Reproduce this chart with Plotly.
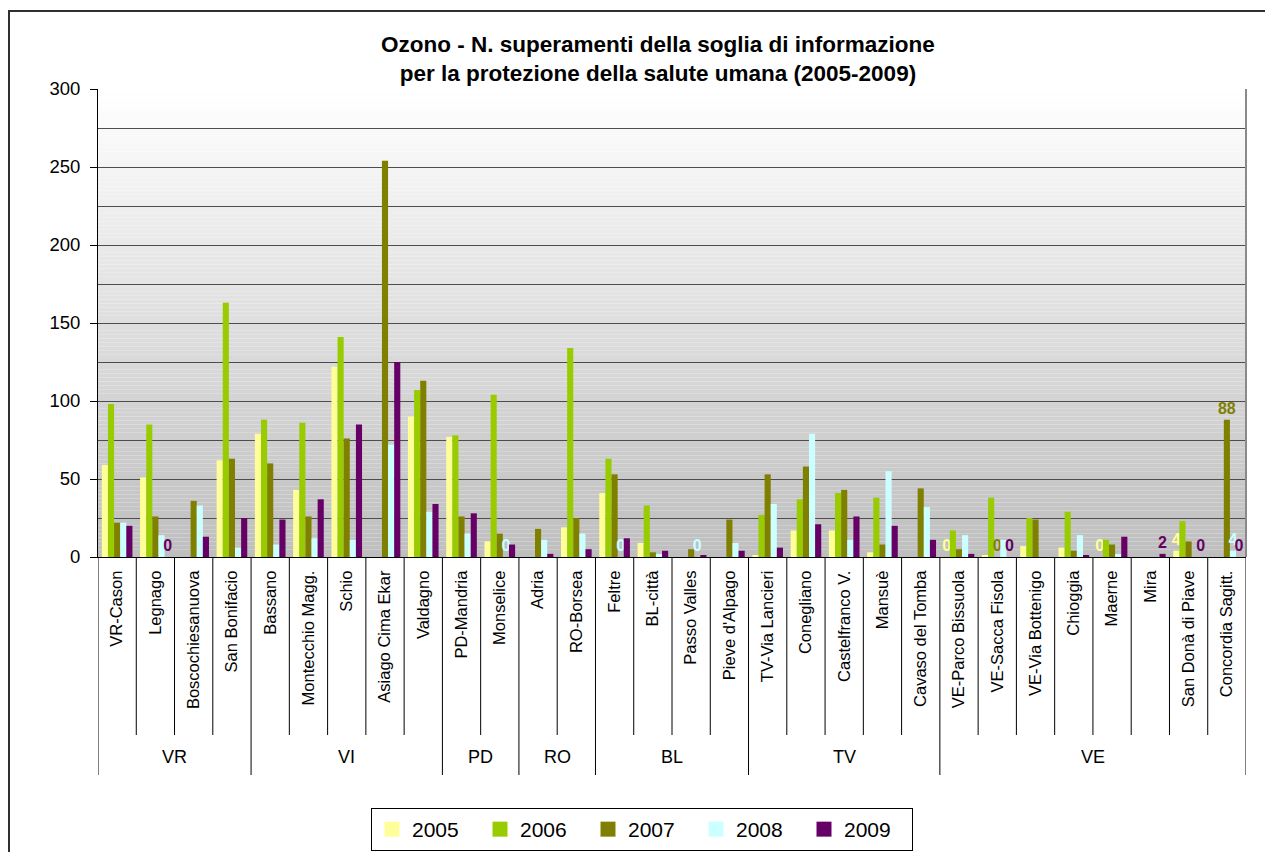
import plotly.graph_objects as go

FONT = "Liberation Sans, Arial, sans-serif"

stations = [
    "VR-Cason", "Legnago", "Boscochiesanuova", "San Bonifacio",
    "Bassano", "Montecchio Magg.", "Schio", "Asiago Cima Ekar", "Valdagno",
    "PD-Mandria", "Monselice",
    "Adria", "RO-Borsea",
    "Feltre", "BL-città", "Passo Valles", "Pieve d'Alpago",
    "TV-Via Lancieri", "Conegliano", "Castelfranco V.", "Mansuè", "Cavaso del Tomba",
    "VE-Parco Bissuola", "VE-Sacca Fisola", "VE-Via Bottenigo", "Chioggia",
    "Maerne", "Mira", "San Donà di Piave", "Concordia Sagitt.",
]
provinces = [
    "VR", "VR", "VR", "VR",
    "VI", "VI", "VI", "VI", "VI",
    "PD", "PD",
    "RO", "RO",
    "BL", "BL", "BL", "BL",
    "TV", "TV", "TV", "TV", "TV",
    "VE", "VE", "VE", "VE", "VE", "VE", "VE", "VE",
]

years = ["2005", "2006", "2007", "2008", "2009"]

v2005 = [59, 51, None, 62, 79, 43, 122, None, 90, 77, 10, None, 19, 41, 9,
         None, None, 1, 17, 17, 3, None, 0, 1, 7, 6, 0, None, 4, None]
v2006 = [98, 85, None, 163, 88, 86, 141, None, 107, 78, 104, None, 134, 63, 33,
         None, None, 27, 37, 41, 38, None, 17, 38, 25, 29, 11, None, 23, None]
v2007 = [22, 26, 36, 63, 60, 26, 76, 254, 113, 26, 15, 18, 25, 53, 3,
         5, 24, 53, 58, 43, 8, 44, 5, 0, 24, 4, 8, None, 10, 88]
v2008 = [22, 14, 33, 6, 8, 12, 11, 72, 29, 15, 0, 11, 15, 0, 2,
         0, 9, 34, 79, 11, 55, 32, 14, 11, None, 14, 2, None, None, 4]
v2009 = [20, 0, 13, 25, 24, 37, 85, 125, 34, 28, 8, 2, 5, 12, 4,
         1, 4, 6, 21, 26, 20, 11, 2, 0, None, 1, 13, 2, 0, 0]

# stations whose bar carries a value label, per year
labelled_2005 = ["VE-Parco Bissuola", "Maerne", "San Donà di Piave"]
labelled_2006 = []
labelled_2007 = ["VE-Sacca Fisola", "Concordia Sagitt."]
labelled_2008 = ["Monselice", "Feltre", "Passo Valles", "Concordia Sagitt."]
labelled_2009 = ["Legnago", "VE-Sacca Fisola", "Mira", "San Donà di Piave", "Concordia Sagitt."]

colors = ["#FFFF99", "#99CC00", "#808000", "#CCFFFF", "#660066"]

y_ticks = [0, 50, 100, 150, 200, 250, 300]

title_text = ("<b>Ozono - N. superamenti della soglia di informazione<br>"
              "per la protezione della salute umana (2005-2009)</b>")

# ---- page geometry (pixels) ----
W, H = 1265, 852
PL, PR, PT, PB = 98, 1246, 89, 557


def px_x(px):
    return (px - PL) / (PR - PL)


def px_y(py):
    return (PB - py) / (PB - PT)


fig = go.Figure()

series = [
    (years[0], v2005, colors[0], labelled_2005),
    (years[1], v2006, colors[1], labelled_2006),
    (years[2], v2007, colors[2], labelled_2007),
    (years[3], v2008, colors[3], labelled_2008),
    (years[4], v2009, colors[4], labelled_2009),
]
for name, vals, col, labelled in series:
    text = [str(v) if (s in labelled and v is not None) else ""
            for s, v in zip(stations, vals)]
    fig.add_bar(
        x=stations, y=vals, name=name, legendgroup=name, showlegend=False,
        marker=dict(color=col, line=dict(width=0)),
        text=text, textposition="outside", constraintext="none",
        textangle=0, cliponaxis=False,
        textfont=dict(color=col, size=16, family=FONT, weight="bold"),
    )

# legend keys: square swatches, one per year
for name, vals, col, labelled in series:
    fig.add_scatter(
        x=[None], y=[None], mode="markers", name=name, legendgroup=name,
        marker=dict(symbol="square", size=15, color=col, line=dict(width=0)),
        showlegend=True,
    )

shapes = []

# vertical gradient behind the plot area
n_bands = 120
y_max = y_ticks[-1]
step = y_max / n_bands
for k in range(n_bands):
    y0 = k * step
    g = round(190 + 65 * (y0 + step / 2) / y_max)
    shapes.append(dict(type="rect", xref="paper", yref="y", x0=0, x1=1,
                       y0=y0, y1=y0 + step, layer="below",
                       line=dict(width=0), fillcolor=f"rgb({g},{g},{g})"))

# right border of the plot area
shapes.append(dict(type="line", xref="paper", yref="paper", x0=1, x1=1,
                   y0=0, y1=1, line=dict(color="#8a8a8a", width=2)))

# category separators below the axis: short between stations, long between provinces
n = len(stations)
for i in range(n + 1):
    region_edge = i == 0 or i == n or provinces[i] != provinces[i - 1]
    y_end = px_y(775) if region_edge else px_y(735)
    shapes.append(dict(type="line", xref="x", yref="paper", x0=i - 0.5, x1=i - 0.5,
                       y0=0, y1=y_end, line=dict(color="black", width=1)))

# outer chart frame
shapes.append(dict(type="rect", xref="paper", yref="paper",
                   x0=px_x(9), x1=px_x(1300), y0=px_y(11), y1=px_y(900),
                   line=dict(color="#303030", width=2), fillcolor="rgba(0,0,0,0)",
                   layer="below"))

annotations = []
# province labels centred under their station groups
groups = []
for i, p in enumerate(provinces):
    if not groups or groups[-1][0] != p:
        groups.append([p, i, i])
    else:
        groups[-1][2] = i
for p, a, b in groups:
    annotations.append(dict(x=(a + b) / 2, y=px_y(757), xref="x", yref="paper",
                            text=p, showarrow=False, xanchor="center", yanchor="middle",
                            font=dict(size=18, color="black", family=FONT)))

annotations.append(dict(x=px_x(658), y=px_y(59), xref="paper", yref="paper",
                        text=title_text, showarrow=False, xanchor="center",
                        yanchor="middle", align="center",
                        font=dict(size=22.5, color="black", family=FONT)))

fig.update_layout(
    width=W, height=H,
    margin=dict(l=PL, r=W - PR, t=PT, b=H - PB, pad=0, autoexpand=False),
    paper_bgcolor="white", plot_bgcolor="white",
    font=dict(family=FONT, color="black"),
    barmode="group", bargap=0.2, bargroupgap=0,
    showlegend=True,
    legend=dict(orientation="h", x=px_x(642), xanchor="center",
                y=px_y(851), yanchor="bottom",
                bgcolor="white", bordercolor="black", borderwidth=1,
                font=dict(size=21, family=FONT, color="black"),
                entrywidth=63, traceorder="normal", itemsizing="trace"),
    shapes=shapes, annotations=annotations,
)

fig.update_xaxes(
    type="category", range=[-0.5, n - 0.5], automargin=False,
    showline=True, linecolor="black", linewidth=1,
    ticks="", tickangle=-90, ticklabelstandoff=6,
    tickfont=dict(size=16.5, family=FONT, color="black"),
    showgrid=False, zeroline=False, fixedrange=True,
)
fig.update_yaxes(
    range=[0, y_max], tickvals=y_ticks, automargin=False,
    showline=True, linecolor="black", linewidth=1,
    ticks="outside", ticklen=7, tickcolor="black", ticklabelstandoff=6,
    tickfont=dict(size=18.5, family=FONT, color="black"),
    showgrid=True, gridcolor="#4d4d4d", gridwidth=1,
    minor=dict(dtick=25, showgrid=True, gridcolor="#4d4d4d", gridwidth=1, ticks=""),
    zeroline=False, fixedrange=True,
)

fig.write_html("out.html")
